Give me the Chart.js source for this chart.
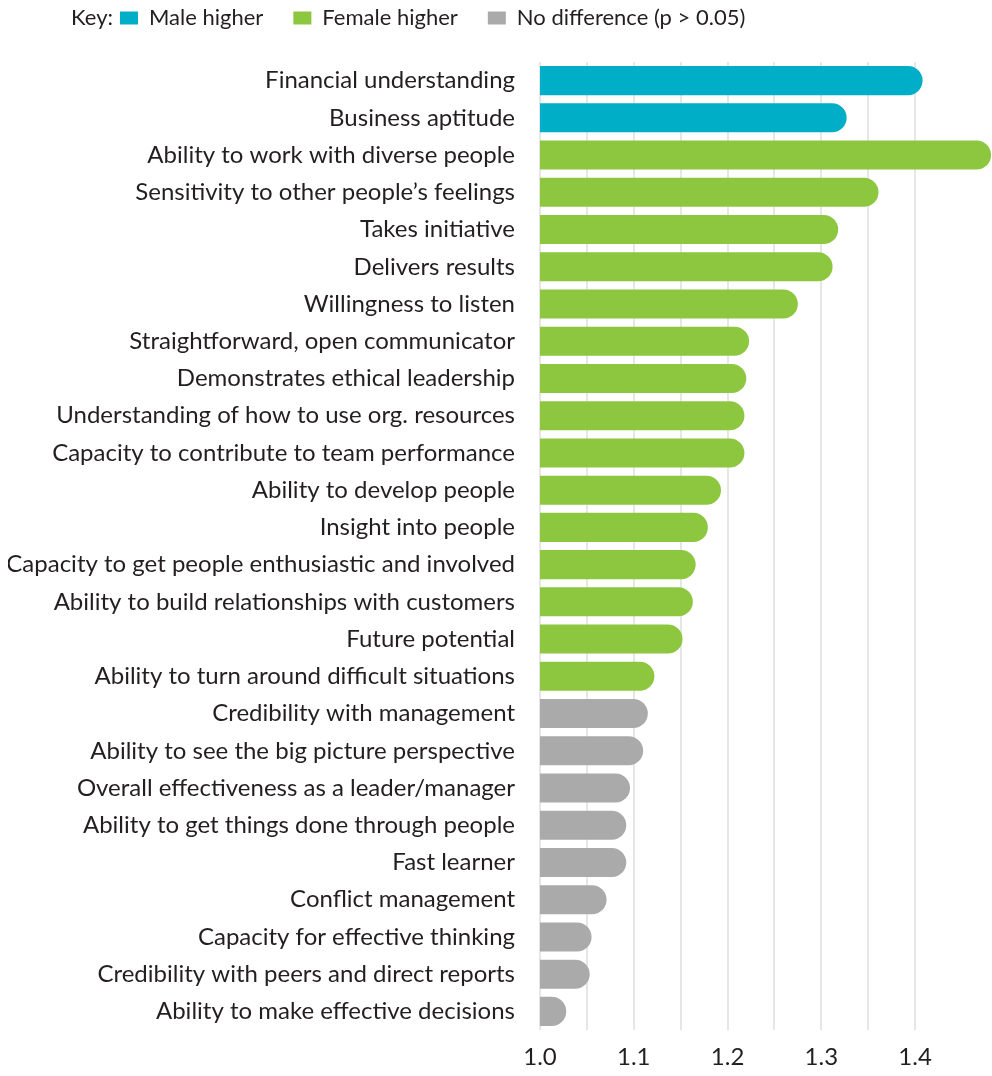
<!DOCTYPE html>
<html>
<head>
<meta charset="utf-8">
<script src="https://cdn.jsdelivr.net/npm/chart.js@4.4.1/dist/chart.umd.min.js"></script>
<style>
  html, body { margin: 0; padding: 0; background: #fff; }
  #wrap { width: 992px; height: 1076px; }
</style>
</head>
<body>
<div id="wrap"><canvas id="chart" width="992" height="1076"></canvas></div>
<script>
// competency labels, top to bottom
const labels = [
  "Financial understanding",
  "Business aptitude",
  "Ability to work with diverse people",
  "Sensitivity to other people\u2019s feelings",
  "Takes initiative",
  "Delivers results",
  "Willingness to listen",
  "Straightforward, open communicator",
  "Demonstrates ethical leadership",
  "Understanding of how to use org. resources",
  "Capacity to contribute to team performance",
  "Ability to develop people",
  "Insight into people",
  "Capacity to get people enthusiastic and involved",
  "Ability to build relationships with customers",
  "Future potential",
  "Ability to turn around difficult situations",
  "Credibility with management",
  "Ability to see the big picture perspective",
  "Overall effectiveness as a leader/manager",
  "Ability to get things done through people",
  "Fast learner",
  "Conflict management",
  "Capacity for effective thinking",
  "Credibility with peers and direct reports",
  "Ability to make effective decisions"
];

const values = [
  1.408, 1.327, 1.481, 1.361, 1.318, 1.312, 1.275, 1.223, 1.220, 1.218,
  1.218, 1.193, 1.179, 1.166, 1.163, 1.152, 1.122, 1.115, 1.110, 1.096,
  1.092, 1.092, 1.071, 1.055, 1.053, 1.028
];

// 0 = male higher, 1 = female higher, 2 = no difference
const groups = [0, 0, 1, 1, 1, 1, 1, 1, 1, 1, 1, 1, 1, 1, 1, 1, 1, 2, 2, 2, 2, 2, 2, 2, 2, 2];
const groupNames = ["Male higher", "Female higher", "No difference (p > 0.05)"];
const groupColors = ["#00aec7", "#8dc63f", "#aaaaaa"];

const tickLabels = ["1.0", "1.1", "1.2", "1.3", "1.4"];

const FONT = "Lato, 'Open Sans', sans-serif";
const TEXT = "#231f20";

// "Key:" caption in front of the legend; legend row pinned near the top edge
const keyLabel = {
  id: "keyLabel",
  afterLayout(chart) {
    const legend = chart.legend;
    const pad = legend.options.labels.padding;
    const h = legend.legendHitBoxes.length ? legend.legendHitBoxes[0].height : 22;
    legend.left = 120 - pad;
    legend.top = 18 - pad - h / 2;
  },
  afterDraw(chart) {
    const box = chart.legend.legendHitBoxes[0];
    if (!box) return;
    const ctx = chart.ctx;
    ctx.save();
    ctx.font = "22px " + FONT;
    ctx.fillStyle = TEXT;
    ctx.textAlign = "right";
    ctx.textBaseline = "middle";
    ctx.fillText("Key:", box.left - 7, box.top + box.height / 2);
    ctx.restore();
  }
};

new Chart(document.getElementById("chart"), {
  type: "bar",
  data: {
    labels: labels,
    datasets: [{
      data: values,
      backgroundColor: groups.map(g => groupColors[g]),
      borderRadius: 15,
      borderSkipped: "start",
      barPercentage: 0.78,
      categoryPercentage: 1
    }]
  },
  options: {
    indexAxis: "y",
    responsive: false,
    animation: false,
    layout: { padding: { top: 0, left: 8, right: 0, bottom: 0 } },
    plugins: {
      tooltip: { enabled: false },
      legend: {
        display: true,
        position: "top",
        align: "start",
        labels: {
          font: { family: FONT, size: 22 },
          color: TEXT,
          boxWidth: 18,
          boxHeight: 13,
          padding: 30,
          generateLabels: () => groupNames.map((name, i) => ({
            text: name,
            fillStyle: groupColors[i],
            strokeStyle: groupColors[i],
            lineWidth: 0,
            fontColor: TEXT
          }))
        }
      }
    },
    scales: {
      x: {
        min: 1.0,
        max: 1.482,
        afterBuildTicks(scale) {
          scale.ticks = scale.ticks.filter(t => Math.abs(t.value * 20 - Math.round(t.value * 20)) < 1e-6);
        },
        afterFit(scale) { scale.height = 46; },
        ticks: {
          stepSize: 0.05,
          padding: 13,
          autoSkip: false,
          maxRotation: 0,
          color: TEXT,
          font: { family: FONT, size: 24 },
          callback(v) {
            const s = Number(v).toFixed(1);
            return Math.abs(v * 10 - Math.round(v * 10)) < 1e-6 && tickLabels.includes(s) ? s : "";
          }
        },
        grid: { color: "#e6e6e6", lineWidth: 2, drawTicks: false },
        border: { display: false }
      },
      y: {
        afterFit(scale) { scale.width = 532; },
        ticks: {
          padding: 25,
          autoSkip: false,
          color: TEXT,
          font: { family: FONT, size: 24 }
        },
        grid: { display: false, drawTicks: false },
        border: { display: false }
      }
    }
  },
  plugins: [keyLabel]
});
</script>
</body>
</html>
